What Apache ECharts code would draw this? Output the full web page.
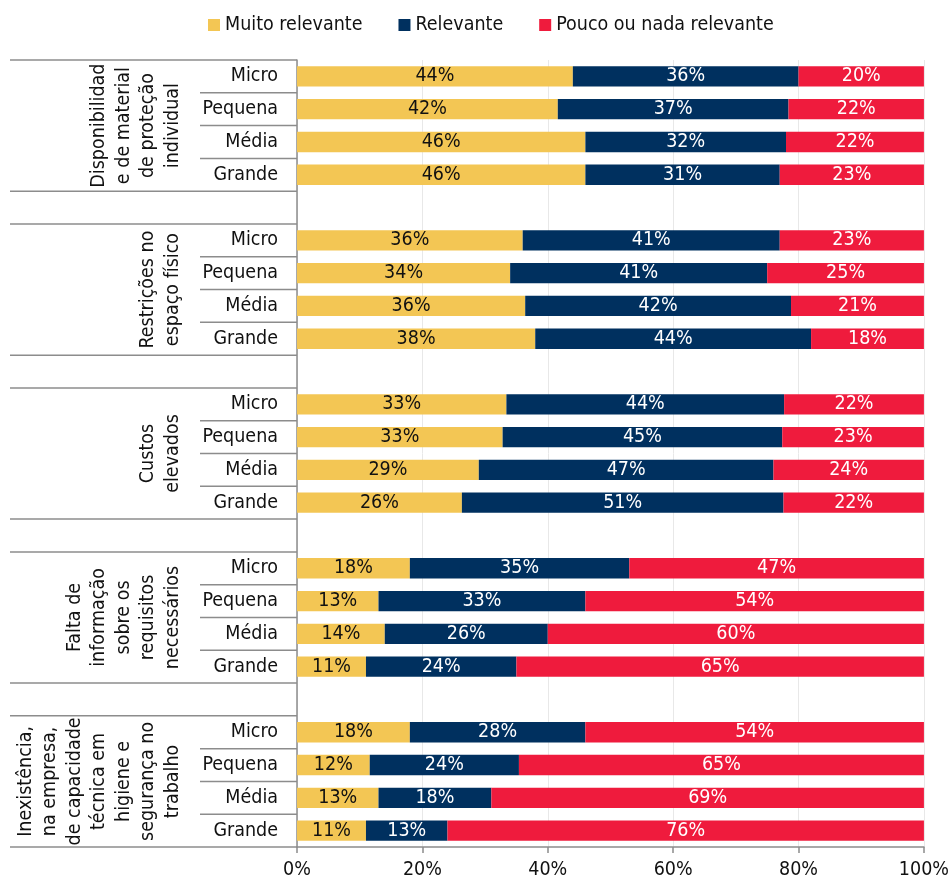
<!DOCTYPE html>
<html>
<head>
<meta charset="utf-8">
<script src="https://cdn.jsdelivr.net/npm/echarts@6/dist/echarts.min.js"></script>
<style>
  html, body { margin: 0; padding: 0; background: #ffffff; }
  #chart { width: 952px; height: 880px; }
</style>
</head>
<body>
<div id="chart"></div>
<script>
// Company sizes, repeated inside every group
const sizes = ['Micro', 'Pequena', 'Média', 'Grande'];

// Group titles (drawn vertically on the left)
const groups = [
  'Disponibilidad\ne de material\nde proteção\nindividual',
  'Restrições no\nespaço físico',
  'Custos\nelevados',
  'Falta de\ninformação\nsobre os\nrequisitos\nnecessários',
  'Inexistência,\nna empresa,\nde capacidade\ntécnica em\nhigiene e\nsegurança no\ntrabalho'
];

// Shares per group, in size order Micro, Pequena, Média, Grande
const muitoRelevante = [
  [44, 41.6, 46, 46],
  [36, 34, 36.4, 38],
  [33.4, 32.8, 29, 26.3],
  [18, 13, 14, 11],
  [18, 11.6, 13, 11]
];
const relevante = [
  [36, 36.8, 32, 31],
  [41, 41, 42.4, 44],
  [44.3, 44.6, 47, 51.3],
  [35, 33, 26, 24],
  [28, 23.8, 18, 13]
];
const poucoRelevante = [
  [20, 21.6, 22, 23],
  [23, 25, 21.2, 18],
  [22.3, 22.6, 24, 22.4],
  [47, 54, 60, 65],
  [54, 64.6, 69, 76]
];

const seriesNames = ['Muito relevante', 'Relevante', 'Pouco ou nada relevante'];
const seriesColors = ['#F3C654', '#00305F', '#EF1B3D'];
const labelColors = ['#111111', '#ffffff', '#ffffff'];
const xTicks = [0, 20, 40, 60, 80, 100];

const FONT = "'DejaVu Sans Condensed', 'DejaVu Sans', sans-serif";
const FS = 19.5;

// Rows: four sizes per group, with an empty spacer row between groups
const rows = [];
const groupRowIdx = [];
groups.forEach((g, gi) => {
  const idx = [];
  sizes.forEach(s => { idx.push(rows.length); rows.push(s); });
  groupRowIdx.push(idx);
  if (gi < groups.length - 1) rows.push('');
});

function buildData(values) {
  const out = rows.map(() => null);
  groupRowIdx.forEach((idx, gi) => idx.forEach((r, si) => { out[r] = values[gi][si]; }));
  return out;
}

const seriesValues = [muitoRelevante, relevante, poucoRelevante];

const chart = echarts.init(document.getElementById('chart'), null, { renderer: 'canvas' });

const GRID = { left: 297, right: 27, top: 60, bottom: 33 };

chart.setOption({
  animation: false,
  textStyle: { fontFamily: FONT },
  legend: {
    top: 10,
    left: 203,
    itemWidth: 12,
    itemHeight: 12,
    itemGap: 36,
    icon: 'rect',
    textStyle: { fontFamily: FONT, fontSize: FS, color: '#111' },
    data: seriesNames
  },
  grid: GRID,
  xAxis: {
    type: 'value',
    min: 0,
    max: 100,
    interval: 20,
    axisLine: { show: true, lineStyle: { color: '#8c8c8c', width: 1.5 } },
    axisTick: { show: true, length: 6, lineStyle: { color: '#8c8c8c', width: 1.5 } },
    splitLine: { show: true, lineStyle: { color: '#e8e8e8', width: 1 } },
    axisLabel: {
      margin: 13,
      fontFamily: FONT,
      fontSize: FS,
      color: '#111',
      formatter: v => (xTicks.includes(v) ? v + '%' : '')
    }
  },
  yAxis: {
    type: 'category',
    inverse: true,
    data: rows,
    axisLine: { show: true, lineStyle: { color: '#8c8c8c', width: 1.5 } },
    axisTick: { show: false },
    axisLabel: { margin: 19, fontFamily: FONT, fontSize: FS, color: '#111', interval: 0 }
  },
  series: seriesNames.map((name, i) => ({
    name,
    type: 'bar',
    stack: 'total',
    barCategoryGap: '38%',
    itemStyle: { color: seriesColors[i] },
    label: {
      show: true,
      position: 'inside',
      fontFamily: FONT,
      fontSize: FS,
      color: labelColors[i],
      formatter: p => (p.value == null ? '' : Math.round(p.value) + '%')
    },
    data: buildData(seriesValues[i])
  }))
});

// Separator lines and vertical group titles in the label column
function drawLabelColumn() {
  const axisX = chart.convertToPixel({ xAxisIndex: 0 }, 0);
  const c0 = chart.convertToPixel({ yAxisIndex: 0 }, 0);
  const c1 = chart.convertToPixel({ yAxisIndex: 0 }, 1);
  const band = c1 - c0;
  const edge = i => chart.convertToPixel({ yAxisIndex: 0 }, i) - band / 2;
  const lineStyle = { stroke: '#8c8c8c', lineWidth: 1.5 };
  const elements = [];
  const fullLeft = 10;
  const shortLeft = 200;

  groupRowIdx.forEach((idx, gi) => {
    const top = edge(idx[0]);
    const bottom = edge(idx[idx.length - 1] + 1);
    elements.push({ type: 'line', shape: { x1: fullLeft, y1: top, x2: axisX, y2: top }, style: lineStyle });
    elements.push({ type: 'line', shape: { x1: fullLeft, y1: bottom, x2: axisX, y2: bottom }, style: lineStyle });
    for (let k = 1; k < idx.length; k++) {
      const y = edge(idx[k]);
      elements.push({ type: 'line', shape: { x1: shortLeft, y1: y, x2: axisX, y2: y }, style: lineStyle });
    }
    const cy = (top + bottom) / 2;
    elements.push({
      type: 'text',
      x: 185,
      y: cy,
      rotation: Math.PI / 2,
      style: {
        text: groups[gi],
        fontFamily: FONT,
        fontSize: FS,
        lineHeight: 24.5,
        fill: '#111',
        align: 'center',
        verticalAlign: 'bottom'
      }
    });
  });
  chart.setOption({ graphic: { elements } });
}
drawLabelColumn();
</script>
</body>
</html>
